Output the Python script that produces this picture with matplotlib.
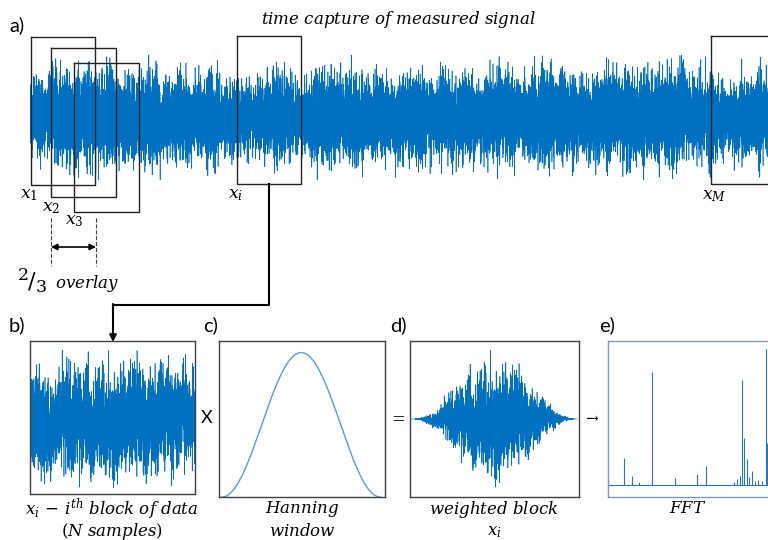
import numpy as np
import matplotlib.pyplot as plt

plt.rcParams['mathtext.fontset'] = 'dejavuserif'

W, H = 768, 540
BLUE = '#0070C0'
LIGHT = '#5B9BD5'
EDGE = '#404040'

# amplitude envelope of the long capture (noise scale in px), read along the strip
env_pos = [30, 80, 130, 180, 230, 280, 330, 380, 430, 480, 530, 580, 630, 680, 720, 768]
env_amp = [16, 17, 16, 16, 14, 16, 15, 16, 15, 15, 16, 16, 17, 18, 15, 16]

# envelope of the selected block b) (noise scale in px)
blk_pos = [0, 20, 40, 60, 80, 100, 120, 140, 165]
blk_amp = [15, 13, 14, 13, 12, 16, 15, 13, 12]

# spectrum peaks in panel e): position (px from box left) and height (px above baseline)
peak_pos = [16, 24, 31, 44, 67, 89, 98, 126, 129, 132, 134, 136, 139, 141, 144, 147, 150, 154, 158, 158.6]
peak_amp = [27, 9, 3, 113, 7, 11, 19, 3, 6, 9, 105, 47, 26, 8, 14, 4, 5, 4, 136, 42]

# measurement windows drawn on the capture: left, top, right, bottom (px)
win_left = [31, 51, 74, 237, 711]
win_top = [37, 48, 63, 36, 36]
win_right = [95, 116, 139, 301, 790]
win_bottom = [185, 197, 212, 184, 184]
win_labels = ['$x_1$', '$x_2$', '$x_3$', '$x_i$', '$x_M$']
lab_x = [20, 42, 65, 228, 702]
lab_y = [194, 207, 220, 194, 195]

# noise texture only (a measured signal cannot be read sample by sample)
rng = np.random.default_rng(7)


def smooth(v, k):
    return np.convolve(v, np.ones(k) / k, mode='same')


def px_axes(fig, x0, y0, x1, y1):
    return fig.add_axes([x0 / W, 1 - y1 / H, (x1 - x0) / W, (y1 - y0) / H])


fig = plt.figure(figsize=(W / 100, H / 100), dpi=100)

# a) long time capture
n_top = 24000
t_top = np.linspace(30, 768, n_top)
mod = 1 + 0.12 * smooth(rng.standard_normal(n_top), 200) * np.sqrt(200)
raw_top = rng.standard_t(6, n_top) * np.interp(t_top, env_pos, env_amp) * mod
sig_top = 64 * np.tanh(raw_top / 64)
ax_a = px_axes(fig, 30, 55, 768, 180)
ax_a.plot(t_top, sig_top, color=BLUE, lw=0.45)
ax_a.set_xlim(30, 768)
ax_a.set_ylim(-62.5, 62.5)
ax_a.axis('off')

# b) one block of data
n_blk = 4000
t_blk = np.linspace(0, 165, n_blk)
slow = smooth(rng.standard_normal(n_blk), 80) * np.sqrt(80) * 9
raw_blk = slow + rng.standard_t(6, n_blk) * np.interp(t_blk, blk_pos, blk_amp) * 1.45
sig_blk = 72 * np.tanh(raw_blk / 72)
ax_b = px_axes(fig, 30, 341, 195, 494)
ax_b.plot(t_blk, sig_blk, color=BLUE, lw=0.45)
ax_b.set_xlim(0, 165)
ax_b.set_ylim(-74, 79)

# c) Hanning window
win = np.hanning(400)
ax_c = px_axes(fig, 219, 341, 385, 497)
ax_c.plot(np.arange(400), win, color=LIGHT, lw=1)
ax_c.set_xlim(-8, 411)
ax_c.set_ylim(0, 1.08)

# d) weighted block
w_blk = np.hanning(n_blk) * sig_blk
ax_d = px_axes(fig, 410, 341, 579, 497)
ax_d.plot(t_blk, w_blk, color=BLUE, lw=0.45)
ax_d.set_xlim(-2, 167)
ax_d.set_ylim(-78, 78)

# e) FFT
ax_e = px_axes(fig, 608, 341, 790, 497)
ax_e.vlines(peak_pos, 0, peak_amp, color='#2E75B6', lw=0.8)
ax_e.hlines(0, 0, 182, color='#2E75B6', lw=0.8)
ax_e.set_xlim(0, 182)
ax_e.set_ylim(-12, 144)

for ax in (ax_b, ax_c, ax_d, ax_e):
    ax.set_xticks([])
    ax.set_yticks([])
    for s in ax.spines.values():
        s.set_color(EDGE)
        s.set_linewidth(1)
for s in ax_e.spines.values():
    s.set_color('#8497B0')

# overlay in pixel coordinates for frames, arrows and labels
ov = fig.add_axes([0, 0, 1, 1])
ov.set_xlim(0, W)
ov.set_ylim(H, 0)
ov.axis('off')
ov.patch.set_alpha(0)

for x0, y0, x1, y1 in zip(win_left, win_top, win_right, win_bottom):
    ov.plot([x0, x1, x1, x0, x0], [y0, y0, y1, y1, y0], color='#222222', lw=1)
for lab, x, y in zip(win_labels, lab_x, lab_y):
    ov.text(x, y, lab, fontsize=12.5, ha='left', va='center')

# 2/3 overlay marker
ov.plot([51, 51], [218, 266], color='#444444', lw=0.8, ls='--')
ov.plot([96, 96], [218, 266], color='#444444', lw=0.8, ls='--')
ov.annotate('', xy=(51, 247), xytext=(96, 247),
            arrowprops=dict(arrowstyle='<|-|>', color='black', lw=1.2,
                            shrinkA=0, shrinkB=0, mutation_scale=9))
ov.text(18, 275, '2', fontsize=12.5, family='DejaVu Serif', ha='left', va='center')
ov.text(28, 281, '/', fontsize=16, family='DejaVu Serif', ha='left', va='center')
ov.text(36, 288, '3', fontsize=12.5, family='DejaVu Serif', ha='left', va='center')
ov.text(55, 283, '$overlay$', fontsize=12, ha='left', va='center')

# connector from x_i to block b)
ov.plot([269, 269, 113], [184, 305, 305], color='black', lw=1.5)
ov.annotate('', xy=(113, 342), xytext=(113, 304),
            arrowprops=dict(arrowstyle='-|>', color='black', lw=1.5,
                            shrinkA=0, shrinkB=0, mutation_scale=10))

# panel letters
for lab, x, y in [('a)', 9, 25), ('b)', 9, 325), ('c)', 203, 325),
                  ('d)', 390, 325), ('e)', 599, 325)]:
    ov.text(x, y, lab, fontsize=14.5, family='Lato', ha='left', va='center')

ov.text(398, 19, r'$time\ capture\ of\ measured\ signal$', fontsize=12,
        ha='center', va='center')
ov.text(207, 418, 'X', fontsize=13, family='Lato', ha='center', va='center')
ov.text(397, 417, '$=$', fontsize=12, ha='center', va='center')
ov.text(592, 417, r'$\rightarrow$', fontsize=11, ha='center', va='center')

ov.text(112, 509, r'$x_i\,-\,i^{th}\ block\ of\ data$', fontsize=12, ha='center', va='center')
ov.text(112, 531, r'$(N\ samples)$', fontsize=12, ha='center', va='center')
ov.text(302, 509, r'$Hanning$', fontsize=12, ha='center', va='center')
ov.text(302, 531, r'$window$', fontsize=12, ha='center', va='center')
ov.text(494, 509, r'$weighted\ block$', fontsize=12, ha='center', va='center')
ov.text(494, 531, r'$x_i$', fontsize=12, ha='center', va='center')
ov.text(688, 508, r'$FFT$', fontsize=12, ha='center', va='center')

fig.savefig('out.png', dpi=100)
